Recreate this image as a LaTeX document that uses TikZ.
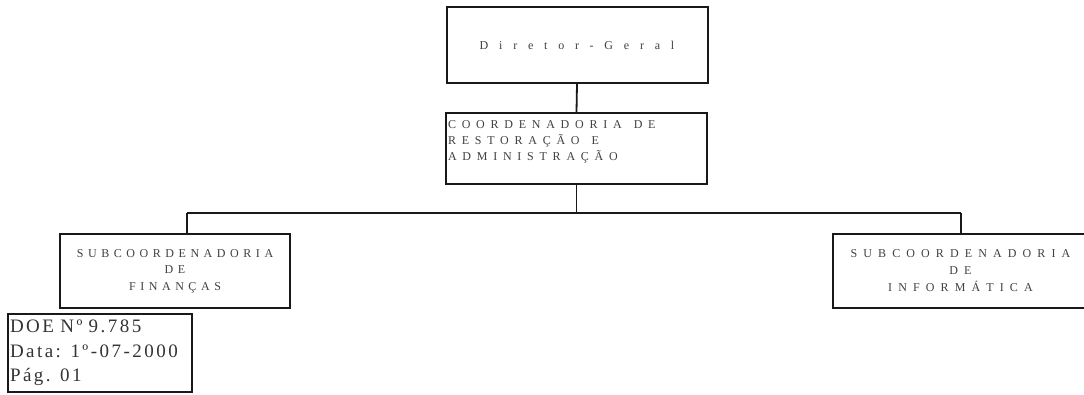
\documentclass[tikz,border=0pt]{standalone}
\usepackage{fontspec}
\setmainfont{Liberation Serif}
\newfontfamily\coordfont[LetterSpace=48]{Liberation Serif}
\newfontfamily\finfont[LetterSpace=38]{Liberation Serif}
\newfontfamily\inffont[LetterSpace=51]{Liberation Serif}
\newfontfamily\topfont[LetterSpace=90]{Liberation Serif}
\newfontfamily\doefont[LetterSpace=13]{Liberation Serif}
\begin{document}
\begin{tikzpicture}[x=1pt,y=-1pt,
  orgbox/.style={draw=black!90, line width=2pt, fill=white, minimum width=#1, inner sep=2pt},
  lbl/.style={text=black!75, align=center},
  conn/.style={draw=black!90, line width=1.8pt}]
\useasboundingbox (0,0) rectangle (1084,394);
\node[orgbox=261pt, minimum height=76pt, lbl, font=\topfont\fontsize{12}{16}\selectfont] (top) at (577,45) {Diretor-Geral};
\node[orgbox=261pt, minimum height=71pt, lbl, align=left, text width=257pt, font=\coordfont\fontsize{12}{16}\selectfont] (coord) at (576.5,148.5) {COORDENADORIA\kern12pt DE\\RESTORAÇÃO\kern12pt E\\ADMINISTRAÇÃO\\~};
\node[orgbox=230pt, minimum height=74pt, lbl, font=\finfont\fontsize{12}{16.5}\selectfont] (fin) at (175,271) {SUBCOORDENADORIA\\DE\\FINANÇAS};
\node[orgbox=255pt, minimum height=74pt, lbl, font=\inffont\fontsize{12}{17}\selectfont] (inf) at (960.5,271) {SUBCOORDENADORIA\\DE\\INFORMÁTICA};
\node[orgbox=184pt, minimum height=78pt, align=left, text width=180pt, text=black!80, font=\doefont\fontsize{19}{24.5}\selectfont, inner sep=1.5pt] (doe) at (100,353) {DOE Nº 9.785\\Data: 1º-07-2000\\Pág. 01};
\coordinate (jl) at (187,213);
\coordinate (jr) at (961,213);
\draw[conn] (top.south) -- (coord.north);
\draw[conn] (coord.south) -- (coord.south |- jl);
\draw[conn] (jl) -- (jr);
\draw[conn] (jl) -- (jl |- fin.north);
\draw[conn] (jr) -- (jr |- inf.north);
\end{tikzpicture}
\end{document}
